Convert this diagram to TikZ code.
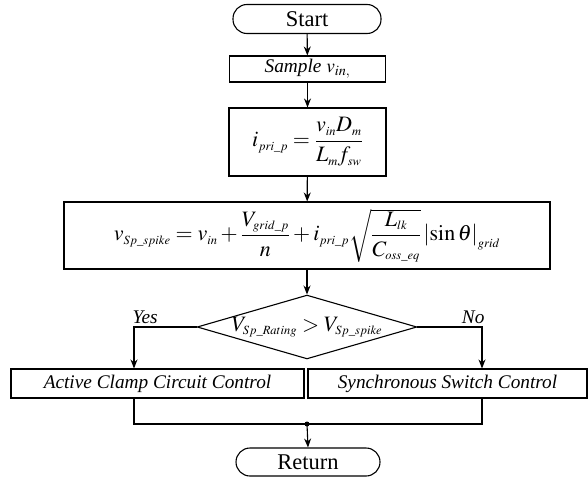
\documentclass[tikz,border=0pt]{standalone}
\usepackage{amsmath}
\usepackage{mathptmx}
\usepackage{fontspec}
\setmainfont{Liberation Serif}
\DeclareMathSizes{22}{22}{12.5}{10}
\usetikzlibrary{shapes.geometric,arrows.meta}
\begin{document}
\begin{tikzpicture}[x=1pt,y=-1pt,
  line width=1.1pt,
  box/.style={draw, rectangle, inner sep=0pt, align=center},
  term/.style={draw, rectangle, rounded corners=14pt, inner sep=0pt, font=\fontsize{22.5}{26}\selectfont},
  lab/.style={font=\fontsize{19.3}{22}\selectfont\itshape},
  arr/.style={-{Stealth[length=9pt,width=7pt]}},
  fml/.style={font=\fontsize{22}{26}\selectfont}]
\useasboundingbox (0,0) rectangle (588,476);
\node[term, minimum width=148pt, minimum height=29pt] (start) at (307,19) {Start};
\node[box, lab, minimum width=156pt, minimum height=26pt] (sample) at (307.5,69) {Sample $v_{in,}$};
\node[box, fml, minimum width=157pt, minimum height=68pt] (f1) at (307.5,142) {$i_{pri\_p}=\dfrac{v_{in}D_{m}}{L_{m}f_{sw}}$};
\node[box, fml, minimum width=486pt, minimum height=67pt] (f2) at (307,235.5) {$v_{Sp\_spike}=v_{in}+\dfrac{V_{grid\_p}}{n}+i_{pri\_p}\sqrt{\dfrac{L_{lk}}{C_{oss\_eq}}}\left|\sin\theta\right|_{grid}$};
\node[draw, diamond, aspect=3.44, inner sep=0pt, minimum width=217pt, minimum height=63pt, fml] (dec) at (307,327) {$V_{Sp\_Rating}>V_{Sp\_spike}$};
\node[box, lab, minimum width=293pt, minimum height=29pt] (left) at (157.5,383.5) {Active Clamp Circuit Control};
\node[box, lab, minimum width=279pt, minimum height=29pt] (right) at (447.5,383.5) {Synchronous Switch Control};
\node[term, minimum width=144pt, minimum height=28pt] (ret) at (308,462) {Return};
\coordinate (yc) at (134,327);
\coordinate (nc) at (482,327);
\coordinate (lm) at (134,424);
\coordinate (rm) at (482,424);
\coordinate (mm) at (307,424);
\node[lab, anchor=south west, inner sep=1pt] (yes) at (131,325) {Yes};
\node[lab, anchor=south east, inner sep=1pt] (no) at (486,325) {No};
\draw[arr] (start) -- (sample);
\draw[arr] (sample) -- (f1);
\draw[arr] (f1) -- (f2);
\draw[arr] (f2) -- (dec);
\draw[arr] (dec.west) -- (yc) -- (yc |- left.north);
\draw[arr] (dec.east) -- (nc) -- (nc |- right.north);
\draw (yc |- left.south) -- (lm) -- (rm) -- (nc |- right.south);
\fill (mm) circle (2.5pt);
\draw[arr] (mm) -- (ret.north);
\end{tikzpicture}
\end{document}
